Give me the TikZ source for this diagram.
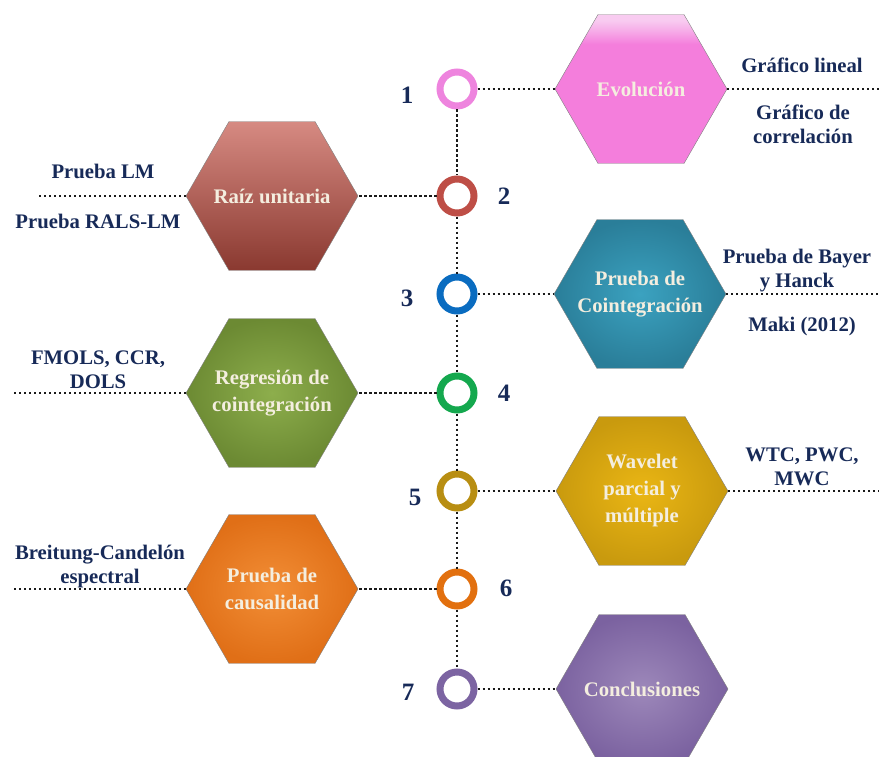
\documentclass[tikz,border=0pt]{standalone}
\usepackage{fontspec}
\setmainfont{Liberation Serif}
\usetikzlibrary{shapes.geometric}

\definecolor{navy}{HTML}{172A58}
\definecolor{hextext}{HTML}{F4EEDF}
\definecolor{linkgray}{HTML}{1A1A1A}
% ring colours
\definecolor{rPink}{HTML}{EE84DE}
\definecolor{rRed}{HTML}{BE4E46}
\definecolor{rBlue}{HTML}{0A6CC0}
\definecolor{rGreen}{HTML}{14A84E}
\definecolor{rGold}{HTML}{B88E12}
\definecolor{rOrange}{HTML}{E2700F}
\definecolor{rPurple}{HTML}{7C64A2}
% hexagon fills
\definecolor{pinkTop}{HTML}{F8CBF0}
\definecolor{pinkMid}{HTML}{F47EDC}
\definecolor{redTop}{HTML}{D68A82}
\definecolor{redMid}{HTML}{C25A4F}
\definecolor{redBot}{HTML}{8A3930}
\definecolor{tealIn}{HTML}{3BA2C0}
\definecolor{tealOut}{HTML}{2A7E99}
\definecolor{oliveIn}{HTML}{8DAE4C}
\definecolor{oliveOut}{HTML}{6C8A33}
\definecolor{goldIn}{HTML}{EAB614}
\definecolor{goldOut}{HTML}{C99A0E}
\definecolor{orangeIn}{HTML}{F28E36}
\definecolor{orangeOut}{HTML}{E06F17}
\definecolor{violetIn}{HTML}{9D88BA}
\definecolor{violetOut}{HTML}{7B62A0}

% pink fill with a light band along the top edge
% (the filled shape spans 25bp..75bp of the shading)
\pgfdeclareverticalshading{pinkband}{100bp}{%
  color(0bp)=(pinkMid); color(65bp)=(pinkMid); color(70bp)=(pinkTop!65!pinkMid);
  color(73bp)=(pinkTop); color(100bp)=(pinkTop)}

\newcommand{\dgNote}{\fontsize{20.7}{24}\selectfont\bfseries}
\newcommand{\dgHex}{\fontsize{20.7}{27}\selectfont\bfseries}
\newcommand{\dgNum}{\fontsize{25}{28}\selectfont\bfseries}

\begin{document}
\begin{tikzpicture}[x=1pt,y=-1pt,
  hexbox/.style={regular polygon, regular polygon sides=6, minimum size=172pt,
    inner sep=0pt, outer sep=0pt, draw=black!50, line width=0.4pt},
  hextxt/.style={text=hextext, font=\dgHex, align=center},
  ring/.style={circle, draw=#1, fill=white, line width=7pt,
    minimum size=34pt, inner sep=0pt},
  link/.style={draw=linkgray, line width=2.2pt, dash pattern=on 2.2pt off 2.8pt},
  note/.style={text=navy, font=\dgNote, align=center},
  num/.style={text=navy, font=\dgNum}
]
\useasboundingbox (0,0) rectangle (881,757);

% timeline rings
\node[ring=rPink]   (c1) at (457,89)  {};
\node[ring=rRed]    (c2) at (457,196) {};
\node[ring=rBlue]   (c3) at (457,294) {};
\node[ring=rGreen]  (c4) at (457,393) {};
\node[ring=rGold]   (c5) at (457,491) {};
\node[ring=rOrange] (c6) at (457,589) {};
\node[ring=rPurple] (c7) at (457,689) {};

% step numbers
\node[num] (n1) at (407,95)  {1};
\node[num] (n2) at (504,196) {2};
\node[num] (n3) at (407,298) {3};
\node[num] (n4) at (504,393) {4};
\node[num] (n5) at (415,497) {5};
\node[num] (n6) at (506,588) {6};
\node[num] (n7) at (408,692) {7};

% hexagons
\node[hexbox, shading=pinkband] (h1) at (641,89) {};
\node[hexbox, top color=redTop, middle color=redMid, bottom color=redBot] (h2) at (272,196) {};
\node[hexbox, inner color=tealIn, outer color=tealOut] (h3) at (640,294) {};
\node[hexbox, inner color=oliveIn, outer color=oliveOut] (h4) at (272,393) {};
\node[hexbox, inner color=goldIn, outer color=goldOut] (h5) at (642,491) {};
\node[hexbox, inner color=orangeIn, outer color=orangeOut] (h6) at (272,589) {};
\node[hexbox, inner color=violetIn, outer color=violetOut] (h7) at (642,689) {};

% hexagon titles
\node[hextxt] (t1) at (h1) {Evolución};
\node[hextxt] (t2) at (h2) {Raíz unitaria};
\node[hextxt] (t3) at (h3) {Prueba de\\Cointegración};
\node[hextxt] (t4) at (h4) {Regresión de\\cointegración};
\node[hextxt] (t5) at (h5) {Wavelet\\parcial y\\múltiple};
\node[hextxt] (t6) at (h6) {Prueba de\\causalidad};
\node[hextxt] (t7) at (h7) {Conclusiones};

% side notes
\node[note] (g1) at (802,65)  {Gráfico lineal};
\node[note] (g2) at (803,124) {Gráfico de\\correlación};
\node[note] (p1) at (103,171) {Prueba LM};
\node[note] (p2) at (98,221)  {Prueba RALS-LM};
\node[note] (b1) at (797,271) {Prueba de Bayer\\y Hanck};
\node[note] (b2) at (802,327) {Maki (2012)};
\node[note] (f1) at (98,370)  {FMOLS, CCR,\\DOLS};
\node[note] (w1) at (802,467) {WTC, PWC,\\MWC};
\node[note] (k1) at (100,567) {Breitung-Candelón\\espectral};

% free line ends
\coordinate (e1) at (879,89);
\coordinate (e2) at (37,196);
\coordinate (e3) at (879,294);
\coordinate (e4) at (12,393);
\coordinate (e5) at (879,491);
\coordinate (e6) at (12,589);

% vertical timeline
\draw[link] (c1) -- (c2);
\draw[link] (c2) -- (c3);
\draw[link] (c3) -- (c4);
\draw[link] (c4) -- (c5);
\draw[link] (c5) -- (c6);
\draw[link] (c6) -- (c7);

% horizontal connectors
\draw[link] (c1) -- (h1.west);
\draw[link] (h1.east) -- (e1);
\draw[link] (c2) -- (h2.east);
\draw[link] (h2.west) -- (e2);
\draw[link] (c3) -- (h3.west);
\draw[link] (h3.east) -- (e3);
\draw[link] (c4) -- (h4.east);
\draw[link] (h4.west) -- (e4);
\draw[link] (c5) -- (h5.west);
\draw[link] (h5.east) -- (e5);
\draw[link] (c6) -- (h6.east);
\draw[link] (h6.west) -- (e6);
\draw[link] (c7) -- (h7.west);
\end{tikzpicture}
\end{document}
